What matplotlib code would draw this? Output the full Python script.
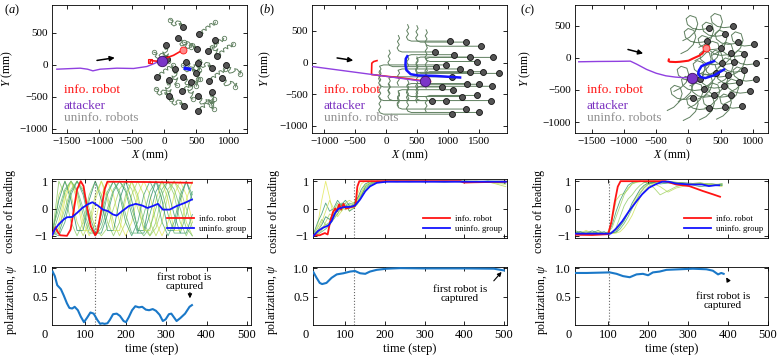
import matplotlib
matplotlib.use('Agg')
import matplotlib.pyplot as plt
import matplotlib.transforms as mtrans

plt.rcParams['font.family'] = ['Liberation Serif', 'DejaVu Serif']
plt.rcParams['mathtext.fontset'] = 'custom'
plt.rcParams['mathtext.rm'] = 'Liberation Serif'
plt.rcParams['mathtext.it'] = 'Liberation Serif:italic'
plt.rcParams['axes.linewidth'] = 0.6

# ---------------- DATA ----------------
# Panel (a) top: trajectories (mm)
A_ATT_X = [-1655, -1294, -1180, -1098, -985, -727, -469, -263, -160, -46]
A_ATT_Y = [-68, -52, -68, -94, -68, -52, -57, -26, 16, 68]
A_ATT_END = (-31, 68)
A_INF_X = [-215, -210, -160, -110, 0, 150, 294]
A_INF_Y = [35, 70, 62, 58, 95, 150, 234]
A_INF_END = (294, 234)
A_BLUE_X = [330, 397]
A_BLUE_Y = [-55, -68]
A_ARROW = [(-1077, 63), (-717, 118)]
A_ROB_X = [294, 216, 546, 31, 794, 510, 675, 335, 526, 820, 46, 175, 964, 742,
           -108, 72, 294, 495, 418, 691, 897, 72, 278, 521, 742, 304, 521]
A_ROB_Y = [599, 417, 479, 313, 391, 245, 224, 52, 36, 141, 89, -63, -10, -52,
           -193, -245, -193, -120, -276, -260, -208, -485, -417, -495, -432, -641, -729]
A_TRAIL_KIND = [0, 1, 3, 2, 2, 0, 3, 1, 2, 3, 0, 2, 1, 0,
                3, 2, 1, 0, 2, 3, 1, 0, 3, 1, 2, 0, 3]
A_TRAIL_DX = [[0, -25, -60, -50, -20, -40, -90, -120, -100, -140, -180, -150, -200],
              [0, 30, 70, 60, 30, 50, 100, 140, 130, 170, 200, 230, 210],
              [0, -30, -10, 30, 20, -20, -50, -30, 10, 40, 20, -10, 30],
              [0, 35, 60, 40, 70, 110, 100, 130, 170, 160, 190, 230, 250]]
A_TRAIL_DY = [[0, 40, 50, 20, 30, 80, 90, 60, 30, 10, 40, 90, 110],
              [0, -40, -30, -60, -90, -120, -110, -80, -50, -60, -100, -80, -140],
              [0, -30, -70, -60, -100, -130, -110, -160, -170, -140, -200, -240, -260],
              [0, 30, 10, 60, 80, 60, 110, 130, 110, 160, 170, 140, 190]]

# Panel (b) top
B_ATT_X = [-1199, 626]
B_ATT_Y = [-63, -300]
B_ATT_END = (626, -300)
B_INF_X = [-146, -200, -230, -235, -100, 300, 600, 720]
B_INF_Y = [30, 15, -10, -190, -205, -250, -290, -300]
B_BLUE_X = [345, 320, 315, 330, 400, 520, 800, 1000, 1200]
B_BLUE_Y = [100, 60, -40, -120, -185, -205, -212, -225, -237]
B_ARROW = [(-837, 79), (-486, 26)]
B_ROB_X = [1038, 1301, 1532, 796, 1102, 1355, 1736, 806, 968, 1199, 1478, 1360, 1570, 1828,
           1075, 1306, 1505, 1710, 903, 1091, 742, 978, 1226, 1468, 1704, 1301, 1511, 1075]
B_ROB_Y = [339, 323, 258, 167, 124, 86, 81, -65, -38, -102, 16, -156, -145, -172,
           -226, -333, -344, -376, -387, -430, -602, -602, -538, -521, -602, -736, -790, -817]
B_START_X = [350, 500, 650, 200, 350, 500, 650, 50, -100, 200, 650, 500, 650, 500,
             50, 350, 650, 500, -100, 200, -100, 50, 350, 650, 500, 200, 350, -100]
B_START_Y = [599, 583, 518, 427, -136, -174, -179, 195, -298, -362, 276, -416, -405, 88,
             -486, -593, -84, -636, -127, -690, -342, -342, -278, -781, -342, -476, -530, -557]
B_CURL_KIND = [1, 1, 1, 1, 0, 0, 0, 1, 0, 0, 1, 0, 0, 1,
               0, 0, 1, 0, 1, 0, 1, 1, 1, 0, 1, 1, 1, 1]
B_CURL_DX = [[0, -20, 15, -15, 20, -5, 60], [0, 20, -15, 15, -20, 5, 60]]
B_CURL_DY = [[0, 45, 95, 145, 195, 240, 260], [0, -45, -95, -145, -195, -240, -260]]

# Panel (c) top
C_ATT_X = [-1700, -1400, -1100, -900, -800, -650, -500, -350, -200, -50, 40]
C_ATT_Y = [-62, -57, -55, -52, -100, -180, -240, -280, -300, -310, -312]
C_ATT_END = (57, -311)
C_INF_X = [-304, -310, -289, -200, -134, 0, 72, 160, 217, 268]
C_INF_Y = [-26, -50, -62, -66, -62, -45, -10, 30, 67, 145]
C_INF_END = (268, 145)
C_BLUE_X = [397, 300, 201, 160, 150, 190, 260, 400, 552]
C_BLUE_Y = [-52, -85, -130, -200, -250, -300, -315, -270, -182]
C_ARROW = [(-979, 140), (-660, 57)]
C_ROB_X = [314, 696, 562, 284, 763, 1016, 500, 655, 861, 521, 701, 1052, 861, 613,
           1041, 784, 242, 546, 949, 397, 655, 72, 320, 572, 835, 423, 175]
C_ROB_Y = [467, 498, 363, 265, 239, 213, 156, 67, 52, -78, -73, -78, -192, -270,
           -332, -374, -478, -441, -519, -581, -581, -618, -773, -763, -753, -234, -322]
C_LOOP_DX = [0, -60, -150, -250, -330, -350, -290, -200, -170, -210, -300, -400]
C_LOOP_DY = [0, -20, -30, -10, 50, 140, 190, 160, 60, -60, -150, -200]

# Middle row: cosine of heading
A_RED_T = [19, 24, 27, 31, 38, 55, 64, 72, 80, 89, 96, 104, 114, 125, 131, 140, 148, 155, 250, 364]
A_RED_V = [-0.96, -0.77, -0.68, -0.83, -0.98, -1.0, -0.77, -0.04, 0.7, 1.0, 0.82, 0.09, -0.65,
           -0.98, -0.83, -0.04, 0.7, 0.98, 0.97, 0.94]
A_BLUE_T = [19, 25, 34, 47, 55, 68, 80, 93, 106, 118, 131, 144, 157, 169, 178, 191, 208, 225,
            241, 254, 267, 280, 292, 309, 326, 347, 364]
A_BLUE_V = [-0.96, -0.77, -0.59, -0.4, -0.32, -0.31, -0.16, 0.02, 0.15, 0.23, 0.11, -0.04, -0.1,
            -0.22, -0.26, -0.1, 0.09, 0.17, 0.11, 0.02, 0.09, 0.17, -0.04, -0.04, 0.09, 0.21, 0.33]
A_GT = [20, 35, 50, 65, 80, 95, 110, 125, 140, 155, 170, 185, 200, 215, 230, 245, 260, 275,
        290, 305, 320, 335, 350, 365]
A_G = [
    [-1, -.5, .5, 1, .5, -.5, -1, -.5, .5, 1, .5, -.5, -1, -.5, .5, 1, .5, -.5, -1, -.5, .5, 1, .5, -.5],
    [-.9, .5, 1, .5, -.5, -1, -.5, .5, 1, .5, -.5, -1, -.5, .5, 1, .5, -.5, -1, -.5, .5, 1, .5, -.5, -1],
    [-.8, 1, .5, -.5, -1, -.5, .5, 1, .5, -.5, -1, -.5, .5, 1, .5, -.5, -1, -.5, .5, 1, .5, -.5, -1, -.5],
    [-.9, -.22, .62, 1, .62, -.22, -.9, -.9, -.22, .62, 1, .62, -.22, -.9, -.9, -.22, .62, 1, .62, -.22, -.9, -.9, -.22, .62],
    [-.9, -.9, -.22, .62, 1, .62, -.22, -.9, -.9, -.22, .62, 1, .62, -.22, -.9, -.9, -.22, .62, 1, .62, -.22, -.9, -.9, -.22],
    [-.81, .31, 1, .31, -.81, -.81, .31, 1, .31, -.81, -.81, .31, 1, .31, -.81, -.81, .31, 1, .31, -.81, -.81, .31, 1, .31],
    [-.9, -.81, .31, 1, .31, -.81, -.81, .31, 1, .31, -.81, -.81, .31, 1, .31, -.81, -.81, .31, 1, .31, -.81, -.81, .31, 1],
    [-1, -.71, 0, .71, 1, .71, 0, -.71, -1, -.71, 0, .71, 1, .71, 0, -.71, -1, -.71, 0, .71, 1, .71, 0, -.71],
    [-.71, 0, .71, 1, .71, 0, -.71, -1, -.71, 0, .71, 1, .71, 0, -.71, -1, -.71, 0, .71, 1, .71, 0, -.71, -1],
    [-.9, -1, -.5, .5, 1, .5, -.5, -1, -.5, .5, 1, .5, -.5, -1, -.5, .5, 1, .5, -.5, -1, -.5, .5, 1, .5],
]

B_RED_T = [19, 35, 48, 55, 61, 68, 74, 78, 84, 89, 95, 101, 107, 116, 123, 126, 130, 135, 390, 399, 424, 504]
B_RED_V = [-0.98, -0.98, -0.9, -0.95, -0.5, -0.15, 0.0, -0.1, 0.15, -0.04, 0.17, 0.0, 0.02, 0.06,
           0.08, 0.2, 0.8, 1.0, 1.0, 0.95, 0.96, 0.98]
B_BLUE_T = [19, 31, 44, 57, 65, 74, 82, 95, 112, 124, 137, 150, 162, 179, 204, 505]
B_BLUE_V = [-1.0, -0.82, -0.7, -0.62, -0.46, -0.16, -0.01, 0.05, 0.06, 0.11, 0.33, 0.63, 0.81,
            0.94, 0.98, 0.98]
B_GT = [20, 30, 40, 50, 60, 70, 80, 90, 100, 110, 120, 130, 140, 150, 165, 180, 200, 230, 260,
        300, 350, 400, 430, 460, 505]
B_G = [
    [-1, -0.6, 0.3, 1.0, 0.4, -0.3, -0.2, 0.0, 0.1, -0.1, 0.1, 0.5, 0.9, 1.0, 1.0, 0.98, 1.0, 1.0, 0.99, 1.0, 0.98, 1.0, 0.99, 0.97, 0.95],
    [-1, -0.9, -0.8, -0.5, -0.2, -0.3, 0.1, 0.2, 0.0, 0.15, 0.1, 0.3, 0.6, 0.85, 0.95, 1.0, 0.98, 1.0, 1.0, 0.99, 1.0, 0.97, 1.0, 0.98, 0.8],
    [-0.95, -0.7, -0.4, -0.6, -0.5, -0.1, 0.2, -0.1, 0.1, 0.0, 0.2, 0.4, 0.5, 0.7, 0.9, 0.97, 1.0, 0.99, 1.0, 1.0, 0.99, 1.0, 1.0, 0.99, 0.98],
    [-1, -0.95, -0.85, -0.75, -0.6, -0.4, -0.2, 0.1, 0.05, 0.2, 0.15, 0.25, 0.5, 0.75, 0.9, 0.98, 1.0, 1.0, 0.98, 1.0, 1.0, 0.99, 0.95, 1.0, 0.97],
    [-0.9, -0.5, -0.2, 0.2, -0.1, 0.0, 0.3, 0.1, 0.2, -0.1, 0.0, 0.2, 0.45, 0.8, 0.95, 1.0, 0.99, 1.0, 1.0, 0.98, 1.0, 1.0, 0.99, 1.0, 0.92],
    [-1, -0.8, -0.6, -0.3, -0.4, -0.2, -0.1, 0.15, 0.3, 0.1, 0.05, 0.35, 0.7, 0.9, 1.0, 0.99, 1.0, 0.98, 1.0, 1.0, 0.97, 1.0, 0.98, 1.0, 1.0],
    [-0.95, -0.85, -0.5, -0.1, 0.3, 0.0, -0.3, -0.1, 0.2, 0.3, 0.2, 0.3, 0.55, 0.85, 0.97, 1.0, 0.98, 1.0, 0.99, 1.0, 1.0, 0.99, 1.0, 0.96, 0.88],
    [-1, -0.9, -0.7, -0.6, -0.55, -0.35, -0.05, 0.05, -0.05, 0.1, 0.0, 0.15, 0.4, 0.65, 0.88, 0.96, 1.0, 1.0, 1.0, 0.99, 1.0, 1.0, 0.97, 1.0, 0.99],
]

C_RED_T = [17, 60, 100, 108, 116, 124, 131, 243, 270, 303, 337, 362, 380]
C_RED_V = [-0.96, -0.97, -0.94, -0.5, 0.2, 0.8, 1.0, 1.0, 0.88, 0.82, 0.64, 0.52, 0.43]
C_BLUE_T = [17, 95, 106, 118, 135, 152, 168, 185, 202, 218, 235, 252, 268, 302, 335, 352, 368, 378]
C_BLUE_V = [-0.92, -0.92, -0.92, -0.77, -0.47, -0.1, 0.21, 0.52, 0.76, 0.88, 0.98, 0.98, 0.92,
            0.88, 0.88, 0.82, 0.85, 0.85]
C_GT = [17, 30, 45, 60, 75, 90, 100, 110, 120, 130, 140, 150, 160, 170, 180, 190, 200, 215, 230,
        250, 270, 300, 330, 360, 385]
C_G = [
    [-0.85, -0.9, -0.8, -0.92, -0.85, -0.9, -0.9, -0.88, -0.8, -0.6, -0.4, -0.2, 0.1, 0.4, 0.6, 0.8, 0.9, 0.95, 0.97, 0.95, 0.9, 0.92, 0.88, 0.9, 0.88],
    [-0.95, -0.93, -0.95, -0.9, -0.93, -0.9, -0.85, -0.4, 0.3, 0.5, 0.55, 0.7, 0.9, 0.95, 0.98, 1.0, 0.97, 0.9, 0.8, 0.6, 0.75, 0.85, 0.9, 0.88, 0.85],
    [-0.9, -0.85, -0.92, -0.88, -0.9, -0.92, -0.9, -0.85, -0.7, -0.3, 0.1, 0.35, 0.5, 0.7, 0.85, 0.95, 0.98, 1.0, 0.98, 0.95, 0.93, 0.9, 0.92, 0.87, 0.9],
    [-0.8, -0.9, -0.85, -0.9, -0.8, -0.92, -0.92, -0.9, -0.88, -0.75, -0.55, -0.3, 0.0, 0.3, 0.55, 0.75, 0.88, 0.95, 0.98, 1.0, 0.96, 0.92, 0.9, 0.85, 0.86],
    [-0.93, -0.95, -0.93, -0.95, -0.93, -0.95, -0.9, -0.6, -0.1, 0.3, 0.6, 0.85, 0.95, 0.98, 1.0, 0.97, 0.92, 0.95, 0.9, 0.93, 0.95, 0.9, 0.8, 0.85, 0.9],
    [-0.88, -0.85, -0.9, -0.82, -0.9, -0.85, -0.92, -0.9, -0.85, -0.65, -0.45, -0.15, 0.2, 0.45, 0.7, 0.85, 0.93, 0.97, 0.99, 0.97, 0.95, 0.93, 0.9, 0.9, 0.85],
    [-0.9, -0.92, -0.88, -0.93, -0.9, -0.9, -0.91, -0.92, -0.9, -0.85, -0.7, -0.5, -0.25, 0.1, 0.4, 0.65, 0.8, 0.92, 0.97, 0.98, 0.96, 0.9, 0.93, 0.88, 0.8],
    [-0.93, -0.9, -0.94, -0.9, -0.92, -0.93, -0.88, -0.7, -0.3, 0.1, 0.5, 0.75, 0.9, 0.97, 1.0, 0.98, 0.9, 0.75, 0.5, 0.65, 0.8, 0.9, 0.95, 0.85, 0.9],
]

# Bottom row: polarization
A_PSI_T = [19.5, 25, 31, 40, 47, 55, 61, 68, 74, 82, 89, 97, 104, 113, 121, 130, 137, 142, 148,
           155, 161, 169, 178, 186, 195, 201, 208, 216, 224, 233, 241, 250, 258, 267, 275, 284,
           292, 299, 307, 313, 319, 326, 335, 347, 358, 364]
A_PSI_V = [0.94, 0.86, 0.70, 0.63, 0.52, 0.38, 0.30, 0.29, 0.32, 0.26, 0.15, 0.05, 0.12, 0.22,
           0.20, 0.09, 0.02, 0.03, 0.02, 0.03, 0.09, 0.19, 0.20, 0.16, 0.07, 0.05, 0.14, 0.26,
           0.33, 0.31, 0.32, 0.27, 0.26, 0.28, 0.25, 0.18, 0.07, 0.10, 0.19, 0.20, 0.14, 0.07,
           0.12, 0.20, 0.32, 0.35]
B_PSI_T = [19, 27, 35, 41, 52, 65, 78, 95, 112, 124, 137, 150, 162, 179, 204, 238, 300, 400, 475, 500]
B_PSI_V = [0.93, 0.83, 0.74, 0.72, 0.74, 0.83, 0.89, 0.91, 0.94, 0.95, 0.91, 0.90, 0.94, 0.97,
           0.99, 1.0, 0.995, 0.995, 0.99, 0.96]
C_PSI_T = [19, 46, 104, 121, 137, 154, 171, 187, 200, 212, 229, 246, 279, 312, 346, 362, 375, 383, 389]
C_PSI_V = [0.915, 0.915, 0.925, 0.90, 0.86, 0.84, 0.89, 0.90, 0.875, 0.925, 0.94, 0.97, 0.98,
           0.99, 0.98, 0.955, 0.89, 0.915, 0.90]

DOTTED_T = [124, 122, 101]

# ---------------- STYLE ----------------
W, H = 780, 362
RED = '#ff1414'
BLUE = '#1414ff'
PURPLE = '#9040e0'
TRAIL = '#5f7f5f'
PSI_C = '#1a78c8'
GCOLS = ['#e3e85a', '#b9dc5e', '#8fcc6a', '#5fb36f', '#3a9a70', '#2a8a6a', '#d0e35a',
         '#a0d265', '#73bf6d', '#4aa572']


def rect(x0, x1, y0, y1):
    return [x0 / W, 1 - y1 / H, (x1 - x0) / W, (y1 - y0) / H]


def style(ax, fs):
    ax.tick_params(direction='in', top=True, right=True, length=3, width=0.6,
                   labelsize=fs, pad=3)


fig = plt.figure(figsize=(7.8, 3.62), dpi=100)

top_rects = [rect(52, 247, 5, 133), rect(312, 507, 5, 133), rect(575, 768, 5, 133)]
mid_rects = [rect(52, 251, 179, 238), rect(313, 507, 179, 238), rect(575, 768, 179, 238)]
bot_rects = [rect(52, 251, 267, 325), rect(313, 507, 267, 325), rect(575, 768, 267, 325)]
top_xlim = [(-1730, 1285), (-1199, 1960), (-1758, 1232)]
top_ylim = [(-1068, 938), (-1115, 910), (-1168, 820)]
top_xticks = [[-1500, -1000, -500, 0, 500, 1000], [-1000, -500, 0, 500, 1000, 1500],
              [-1500, -1000, -500, 0, 500, 1000]]
tlims = [(18, 510), (18, 508), (17, 500)]
ylab_top = [-0.19, -0.2, -0.218]
ylab_mid = [-0.18, -0.17, -0.155]
ylab_bot = [-0.165, -0.17, -0.13]
letters = ['a', 'b', 'c']
letter_x = [12, 267, 528]
ROB_MS = 4.3

for i in range(3):
    ax = fig.add_axes(top_rects[i])
    style(ax, 8)
    if i == 0:
        for rx, ry, k in zip(A_ROB_X, A_ROB_Y, A_TRAIL_KIND):
            xs = [rx + d for d in A_TRAIL_DX[k]]
            ys = [ry + d for d in A_TRAIL_DY[k]]
            ax.plot(xs, ys, color=TRAIL, lw=0.7, zorder=1)
            ax.plot(xs[-1], ys[-1], 'o', ms=3.2, mfc='none', mec=TRAIL, mew=0.6, zorder=1)
        ax.plot(A_ROB_X, A_ROB_Y, 'o', ms=ROB_MS, mfc='#555555', mec='#111111', mew=0.6, ls='none', zorder=3)
        ax.plot(A_ATT_X, A_ATT_Y, color=PURPLE, lw=1.0, zorder=4)
        ax.plot(A_INF_X, A_INF_Y, color=RED, lw=1.2, zorder=4)
        ax.plot(A_INF_X[0], A_INF_Y[0] + 20, 's', ms=3.5, mfc='none', mec=RED, mew=0.8, zorder=4)
        ax.plot(*A_INF_END, 'o', ms=5, mfc='#ff8a8a', mec=RED, mew=0.6, zorder=5)
        ax.plot(A_BLUE_X, A_BLUE_Y, color=BLUE, lw=2.5, zorder=5)
        ax.plot(*A_ATT_END, 'o', ms=7.5, mfc='#7b35c8', mec='#3a1060', mew=0.6, zorder=6)
        arr = A_ARROW
    elif i == 1:
        for rx, ry, sx, sy, k in zip(B_ROB_X, B_ROB_Y, B_START_X, B_START_Y, B_CURL_KIND):
            xs = [sx + d for d in B_CURL_DX[k]] + [rx]
            ys = [sy + d for d in B_CURL_DY[k]] + [ry]
            ax.plot(xs, ys, color=TRAIL, lw=0.7, zorder=1)
        ax.plot(B_ROB_X, B_ROB_Y, 'o', ms=ROB_MS, mfc='#555555', mec='#111111', mew=0.6, ls='none', zorder=3)
        ax.plot(B_INF_X, B_INF_Y, color=RED, lw=1.2, zorder=4)
        ax.plot(B_ATT_X, B_ATT_Y, color=PURPLE, lw=1.0, zorder=4)
        ax.plot(B_BLUE_X, B_BLUE_Y, color=BLUE, lw=1.8, zorder=5)
        ax.plot(*B_ATT_END, 'o', ms=7.5, mfc='#7b35c8', mec='#3a1060', mew=0.6, zorder=6)
        arr = B_ARROW
    else:
        for rx, ry in zip(C_ROB_X, C_ROB_Y):
            xs = [rx + d for d in C_LOOP_DX]
            ys = [ry + d for d in C_LOOP_DY]
            ax.plot(xs, ys, color=TRAIL, lw=0.7, zorder=1)
        ax.plot(C_ROB_X, C_ROB_Y, 'o', ms=ROB_MS, mfc='#555555', mec='#111111', mew=0.6, ls='none', zorder=3)
        ax.plot(C_ATT_X, C_ATT_Y, color=PURPLE, lw=1.0, zorder=4)
        ax.plot(C_INF_X, C_INF_Y, color=RED, lw=1.5, zorder=4)
        ax.plot(*C_INF_END, 'o', ms=5, mfc='#ff8a8a', mec=RED, mew=0.6, zorder=5)
        ax.plot(C_BLUE_X, C_BLUE_Y, color=BLUE, lw=1.8, zorder=5)
        ax.plot(*C_ATT_END, 'o', ms=7.5, mfc='#7b35c8', mec='#3a1060', mew=0.6, zorder=6)
        arr = C_ARROW
    ax.annotate('', xy=arr[1], xytext=arr[0],
                arrowprops=dict(arrowstyle='-|>', color='k', lw=1.1, mutation_scale=7))
    ax.set_xlim(*top_xlim[i])
    ax.set_ylim(*top_ylim[i])
    ax.set_xticks(top_xticks[i])
    ax.set_yticks([-1000, -500, 0, 500])
    ax.set_xlabel('$X$ (mm)', fontsize=8.5, labelpad=1)
    ax.set_ylabel('$Y$ (mm)', fontsize=8.5)
    ax.yaxis.set_label_coords(ylab_top[i], 0.5)
    ax.text(0.06, 0.338, 'info. robot', color=RED, fontsize=9.5, transform=ax.transAxes, va='center')
    ax.text(0.06, 0.208, 'attacker', color='#7a30c0', fontsize=9.5, transform=ax.transAxes, va='center')
    ax.text(0.06, 0.117, 'uninfo. robots', color='#909090', fontsize=9.5, transform=ax.transAxes, va='center')
    fig.text(letter_x[i] / W, 1 - 10 / H, '($%s$)' % letters[i], fontsize=9, ha='center', va='center')

mid_data = [(A_GT, A_G, A_RED_T, A_RED_V, A_BLUE_T, A_BLUE_V),
            (B_GT, B_G, B_RED_T, B_RED_V, B_BLUE_T, B_BLUE_V),
            (C_GT, C_G, C_RED_T, C_RED_V, C_BLUE_T, C_BLUE_V)]
psi_data = [(A_PSI_T, A_PSI_V), (B_PSI_T, B_PSI_V), (C_PSI_T, C_PSI_V)]
ann_text = [(345, 0.76), (389, 0.55), (387, 0.43)]
ann_arrow = [((359, 0.62), (359, 0.42)), ((470, 0.74), (499, 0.97)), ((405, 0.72), (392, 0.88))]

for i in range(3):
    gt, gs, rt, rv, bt, bv = mid_data[i]
    ax = fig.add_axes(mid_rects[i])
    style(ax, 9)
    for j, s in enumerate(gs):
        ax.plot(gt, s, color=GCOLS[j % len(GCOLS)], lw=0.6, alpha=0.85, zorder=1)
    ax.axvline(DOTTED_T[i], color='#666666', ls=':', lw=0.8, zorder=2)
    ax.plot(rt, rv, color=RED, lw=1.3, label='info. robot', zorder=3)
    ax.plot(bt, bv, color=BLUE, lw=1.3, label='uninfo. group', zorder=4)
    ax.set_xlim(*tlims[i])
    ax.set_ylim(-1.08, 1.08)
    ax.set_xticks([100, 200, 300, 400, 500])
    ax.set_xticklabels([])
    ax.set_yticks([-1, 0, 1])
    ax.set_yticklabels(['\u22121', '0', '1'])
    ax.set_ylabel('cosine of heading', fontsize=8.5)
    ax.yaxis.set_label_coords(ylab_mid[i], 0.45)
    ax.legend(loc='lower right', frameon=False, fontsize=6.2, handlelength=3.2,
              borderaxespad=0.2, labelspacing=0.2, handletextpad=0.5)

    ax = fig.add_axes(bot_rects[i])
    style(ax, 9)
    pt, pv = psi_data[i]
    ax.axvline(DOTTED_T[i], color='#666666', ls=':', lw=0.8, zorder=1)
    ax.plot(pt, pv, color=PSI_C, lw=1.5, zorder=3)
    ax.set_xlim(*tlims[i])
    ax.set_ylim(0, 1.02)
    ax.set_xticks([100, 200, 300, 400, 500])
    ax.set_yticks([0.5, 1.0])
    ax.set_yticklabels(['0.5', '1.0'])
    tr = mtrans.offset_copy(ax.get_xaxis_transform(), fig=fig, y=-3, units='points')
    ax.text(0, 0, '0', transform=tr, ha='center', va='top', fontsize=9)
    ax.set_xlabel('time (step)', fontsize=9, labelpad=1)
    ax.set_ylabel('polarization, $\\psi$', fontsize=8.5)
    ax.yaxis.set_label_coords(ylab_bot[i], 0.45)
    tx, ty = ann_text[i]
    ax.text(tx, ty, 'first robot is\ncaptured', ha='center', va='center', fontsize=8,
            linespacing=1.0)
    (x0, y0), (x1, y1) = ann_arrow[i]
    ax.annotate('', xy=(x1, y1), xytext=(x0, y0),
                arrowprops=dict(arrowstyle='-|>', color='k', lw=0.8, mutation_scale=6))

fig.savefig('out.png', dpi=100)
